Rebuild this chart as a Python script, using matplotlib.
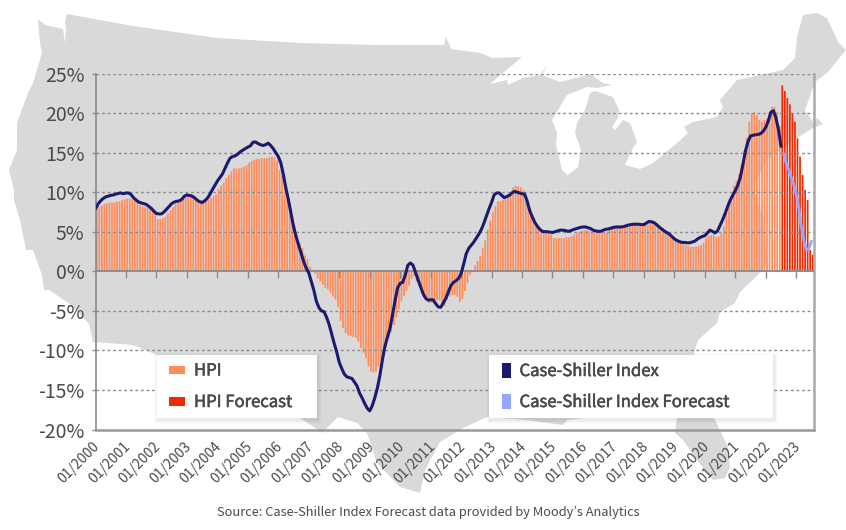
import numpy as np
import matplotlib
matplotlib.use('Agg')
import matplotlib.pyplot as plt
import matplotlib.patheffects as pe
from matplotlib.patches import Polygon, Rectangle
from matplotlib.transforms import ScaledTranslation

plt.rcParams['font.family'] = ['Noto Sans CJK JP', 'DejaVu Sans']

# monthly values, 01/2000 to 07/2023
hpi = [
    7.9, 8.1, 8.3, 8.5, 8.6, 8.7, 8.7, 8.7, 8.8, 8.8, 9.0, 9.1,
    9.2, 9.2, 9.1, 8.9, 8.7, 8.4, 8.2, 8.1, 8.0, 8.0, 7.9, 7.5,
    6.6, 6.6, 6.7, 6.9, 7.3, 7.7, 8.1, 8.5, 8.7, 8.9, 9.1, 9.4,
    9.5, 9.5, 9.4, 9.2, 9.0, 8.9, 8.8, 8.8, 9.0, 9.3, 9.5, 9.7,
    10.4, 10.8, 11.2, 11.8, 12.2, 12.6, 13.0, 13.0, 13.0, 13.1, 13.2, 13.4,
    13.7, 13.9, 14.1, 14.2, 14.2, 14.3, 14.3, 14.3, 14.4, 14.5, 14.4, 14.0,
    12.8, 12.1, 11.1, 9.9, 8.5, 7.0, 5.8, 4.4, 3.6, 2.9, 2.0, 1.5,
    0.6, 0.2, -0.3, -0.9, -1.3, -1.7, -2.1, -2.3, -2.7, -3.2, -3.6, -4.5,
    -6.3, -7.2, -7.8, -8.1, -8.2, -8.3, -8.4, -8.9, -9.7, -10.3, -11.0, -12.0,
    -12.7, -12.8, -12.7, -12.0, -11.2, -10.5, -9.5, -8.5, -7.7, -6.8, -5.8, -4.8,
    -3.8, -3.1, -2.5, -1.8, -1.0, -0.6, -1.3, -1.9, -2.7, -3.2, -3.6, -4.0,
    -4.0, -3.8, -3.6, -3.7, -4.2, -4.4, -3.6, -3.2, -3.0, -3.0, -3.2, -3.9,
    -3.5, -2.5, -1.5, -0.5, 0.1, 0.75, 1.3, 1.9, 2.9, 3.9, 5.3, 6.4,
    7.5, 8.2, 8.8, 8.9, 9.0, 9.1, 9.3, 9.6, 10.6, 10.8, 10.7, 10.6,
    10.3, 9.6, 8.6, 7.6, 6.8, 6.2, 5.7, 5.3, 5.0, 4.8, 4.7, 4.6,
    4.2, 4.2, 4.2, 4.2, 4.2, 4.3, 4.3, 4.4, 4.6, 4.8, 5.0, 5.1,
    5.2, 5.2, 5.1, 4.9, 4.9, 4.8, 4.8, 4.8, 4.9, 5.0, 5.2, 5.4,
    5.5, 5.5, 5.6, 5.6, 5.6, 5.6, 5.7, 5.7, 5.8, 5.8, 5.8, 5.8,
    5.8, 5.9, 6.1, 6.1, 5.9, 5.7, 5.5, 5.4, 5.2, 5.0, 4.7, 4.3,
    3.9, 3.7, 3.6, 3.5, 3.3, 3.2, 3.1, 3.1, 3.1, 3.2, 3.3, 3.6,
    4.2, 4.5, 4.6, 4.6, 4.3, 4.4, 4.8, 5.7, 7.4, 8.4, 9.5, 10.8,
    11.4, 12.3, 13.5, 15.2, 16.9, 18.9, 20.0, 20.1, 19.7, 19.1, 18.9, 19.1,
    19.3, 20.1, 20.8, 20.8, 20.1, 18.4,
]
hpi_forecast = [23.5, 22.8, 21.9, 21.1, 20.0, 18.9, 16.8, 14.5, 12.2, 10.3, 9.0, 2.7, 2.1]

case_shiller = [
    7.9, 8.5, 8.9, 9.2, 9.4, 9.5, 9.6, 9.65, 9.75, 9.85, 9.9, 9.8,
    9.9, 9.9, 9.7, 9.3, 9.0, 8.75, 8.65, 8.55, 8.45, 8.2, 7.95, 7.6,
    7.3, 7.25, 7.25, 7.5, 7.85, 8.2, 8.55, 8.75, 8.85, 8.9, 9.1, 9.5,
    9.65, 9.6, 9.5, 9.3, 9.0, 8.8, 8.7, 8.9, 9.2, 9.7, 10.3, 10.85,
    11.4, 11.85, 12.3, 13.0, 13.7, 14.3, 14.5, 14.6, 14.8, 15.1, 15.3, 15.5,
    15.7, 15.85, 16.3, 16.35, 16.15, 16.0, 15.9, 16.0, 16.2, 15.9, 15.5, 15.0,
    14.5, 13.7, 12.2, 10.5, 9.0, 7.3, 5.65, 4.4, 3.3, 2.3, 1.2, 0.4,
    -0.2, -1.3, -2.4, -3.8, -4.6, -5.0, -5.1, -5.8, -6.7, -7.9, -9.1, -10.2,
    -11.5, -12.3, -13.0, -13.35, -13.45, -13.55, -14.0, -14.5, -15.4, -16.0, -16.7, -17.3,
    -17.65, -17.0, -16.0, -14.8, -13.2, -11.2, -9.5, -8.3, -7.2, -5.5, -3.7, -2.1,
    -1.5, -1.4, -0.5, 0.75, 1.05, 0.8, -0.1, -1.05, -1.9, -2.8, -3.4, -3.65,
    -3.6, -3.6, -4.1, -4.5, -4.55, -4.0, -3.4, -2.6, -1.8, -1.4, -1.2, -0.9,
    -0.3, 0.9, 2.2, 2.9, 3.3, 3.7, 4.2, 4.7, 5.3, 6.1, 7.0, 7.9,
    8.7, 9.65, 9.9, 9.9, 9.6, 9.3, 9.45, 9.6, 9.9, 10.1, 10.0, 9.9,
    9.8, 9.75, 8.9, 7.7, 6.9, 6.2, 5.7, 5.3, 5.05, 5.0, 5.0, 4.95,
    4.9, 5.0, 5.1, 5.2, 5.2, 5.15, 5.05, 5.1, 5.25, 5.35, 5.45, 5.55,
    5.6, 5.6, 5.5, 5.4, 5.2, 5.1, 5.05, 5.05, 5.2, 5.3, 5.35, 5.45,
    5.55, 5.6, 5.6, 5.6, 5.65, 5.75, 5.85, 5.9, 5.95, 5.95, 5.95, 5.9,
    5.9, 6.1, 6.3, 6.25, 6.15, 5.9, 5.6, 5.35, 5.1, 4.9, 4.7, 4.4,
    4.1, 3.9, 3.75, 3.65, 3.65, 3.6, 3.6, 3.7, 3.8, 4.05, 4.25, 4.4,
    4.5, 4.85, 5.2, 5.05, 4.85, 5.1, 5.8, 6.5, 7.3, 8.2, 9.0, 9.6,
    10.2, 10.9, 11.9, 13.5, 15.2, 16.4, 17.1, 17.2, 17.25, 17.3, 17.4, 17.7,
    18.2, 19.0, 20.1, 20.3, 19.4, 17.9, 15.8,
]
case_shiller_forecast = [14.9, 13.7, 12.9, 11.9, 11.0, 9.7, 8.0, 5.6, 3.9, 2.7, 2.9, 3.8]

years = list(range(2000, 2024))
tick_labels = [f'01/{y}' for y in years]
y_ticks = [25, 20, 15, 10, 5, 0, -5, -10, -15, -20]

# background map outline, in picture pixels
us_outline = [
    (38, 19), (45, 25), (63, 29), (65, 43), (66, 29), (65, 22), (67, 14), (133, 26), (217, 38), (300, 43),
    (378, 45), (444, 45), (446, 37), (451, 49), (480, 53), (493, 58), (522, 57), (503, 73), (490, 84),
    (507, 80), (508, 85), (523, 78), (540, 75), (548, 65), (542, 75), (560, 82), (580, 77), (590, 74),
    (603, 83), (612, 85), (597, 88), (587, 87), (567, 95), (552, 120), (557, 133), (556, 145), (562, 170),
    (568, 175), (578, 167), (581, 150), (575, 133), (577, 123), (585, 110), (590, 93), (595, 91),
    (613, 97), (619, 110), (618, 118), (612, 127), (615, 130), (623, 120), (630, 123), (637, 142),
    (633, 148), (625, 165), (640, 169), (653, 163), (677, 143), (688, 133), (684, 127), (693, 122),
    (717, 117), (723, 107), (720, 100), (737, 80), (783, 70), (795, 58), (797, 37), (803, 15), (817, 13),
    (827, 18), (838, 42), (846, 50), (828, 72), (815, 82), (805, 110), (813, 122), (817, 118), (823, 124),
    (813, 128), (797, 138), (767, 160), (753, 187), (763, 217), (767, 263), (758, 275), (740, 292),
    (735, 303), (720, 312), (717, 323), (698, 340), (695, 350), (690, 385), (715, 420), (728, 447),
    (730, 467), (725, 478), (713, 480), (697, 460), (683, 440), (675, 433), (677, 418), (640, 412),
    (600, 416), (567, 420), (563, 425), (527, 420), (487, 417), (463, 428), (440, 442), (425, 470),
    (420, 493), (400, 487), (377, 463), (367, 433), (357, 423), (338, 417), (328, 427), (323, 433),
    (300, 418), (270, 392), (200, 368), (157, 355), (133, 345), (93, 342), (89, 324), (70, 304), (49, 290),
    (44, 290), (42, 275), (33, 250), (26, 250), (20, 220), (14, 200), (14, 190), (9, 170), (17, 150),
    (17, 123), (28, 93), (33, 83), (37, 70), (42, 53), (40, 43),
]

GRID = '#8c8c8c'
AXIS = '#8a8a8a'
TEXT = '#4a4a4a'

W, H = 846, 530
fig = plt.figure(figsize=(W / 100, H / 100), dpi=100, facecolor='white')

# map goes behind everything
bg = fig.add_axes([0, 0, 1, 1], zorder=0)
bg.set_xlim(0, W)
bg.set_ylim(H, 0)
bg.axis('off')
bg.add_patch(Polygon(us_outline, closed=True, fc='#d9d9d9', ec='none'))

ax = fig.add_axes([95.5 / W, 1 - 429.5 / H, (814 - 95.5) / W, (429.5 - 73.5) / H], zorder=1)
ax.patch.set_alpha(0)

months = np.arange(len(hpi) + len(hpi_forecast))
ax.bar(months[:len(hpi)], hpi, width=0.68, color='#ff8c5a', lw=0, zorder=2, snap=False)
ax.bar(months[len(hpi):], hpi_forecast, width=0.68, color='#ee2a00', lw=0, zorder=2, snap=False)

ax.set_xlim(-0.5, len(months) - 0.5)
ax.set_ylim(-20, 25)

for y in y_ticks:
    if y not in (0, -20):
        ax.axhline(y, color=GRID, lw=1, ls=(0, (2, 2)), zorder=3)
ax.axhline(0, color=AXIS, lw=1.3, zorder=3)

# line points sit on the month ticks
n_cs = len(case_shiller)
line_x = months - 0.5
ax.plot(line_x[n_cs:], case_shiller_forecast, color='#96a5ff', lw=2.0, zorder=4, solid_capstyle='round')
ax.plot(line_x[:n_cs], case_shiller, color='#1a1a6e', lw=2.2, zorder=5, solid_capstyle='round')

tick_pos = [12 * i - 0.5 for i in range(len(years))]
ax.vlines(tick_pos[1:], -0.8, 0, color=AXIS, lw=1, zorder=3)
ax.set_xticks(tick_pos)
ax.set_xticklabels(tick_labels, rotation=45, ha='right', va='top', rotation_mode='anchor',
                   fontsize=10, color=TEXT)
ax.tick_params(axis='x', length=0, pad=7)
shift = ScaledTranslation(-3 / 100, 0, fig.dpi_scale_trans)
for lab in ax.get_xticklabels():
    lab.set_transform(lab.get_transform() + shift)
ax.set_yticks(y_ticks)
ax.set_yticklabels([f'{y}%' for y in y_ticks], fontsize=14, color=TEXT)
ax.tick_params(axis='y', length=3, width=1, color=GRID, pad=5)

ax.spines['top'].set_visible(False)
ax.spines['left'].set_color(AXIS)
ax.spines['left'].set_linewidth(1.2)
ax.spines['bottom'].set_color('#999999')
ax.spines['bottom'].set_linewidth(1.8)
ax.spines['right'].set_color('#aaaaaa')
ax.spines['right'].set_linewidth(1.8)

# legends are plain boxes drawn in pixel space
fg = fig.add_axes([0, 0, 1, 1], zorder=2)
fg.set_xlim(0, W)
fg.set_ylim(H, 0)
fg.axis('off')
fg.patch.set_alpha(0)


def legend_box(x0, y0, x1, y1):
    for grow, a in zip([8, 6, 4, 2], [0.012, 0.018, 0.022, 0.028]):
        fg.add_patch(Rectangle((x0 - grow / 2 + 1, y0 - grow / 2 + 2), x1 - x0 + grow, y1 - y0 + grow,
                               fc='black', ec='none', alpha=a))
    fg.add_patch(Rectangle((x0, y0), x1 - x0, y1 - y0, fc='white', ec='none'))


def legend_item(x, y, w, h, color, label, text_x):
    fg.add_patch(Rectangle((x, y - h / 2), w, h, fc=color, ec='none'))
    # no medium weight on hand, a thin stroke thickens the regular one
    t = fg.text(text_x, y + 1, label, fontsize=12, color=TEXT, va='center', ha='left')
    t.set_path_effects([pe.withStroke(linewidth=0.4, foreground=TEXT)])


legend_box(157, 355, 317, 418)
legend_item(169, 370, 16, 8.5, '#ff8c5a', 'HPI', 194)
legend_item(169, 401.5, 16, 8.5, '#ee2a00', 'HPI Forecast', 194)

legend_box(489, 355, 773, 418)
legend_item(502, 370.5, 9, 15, '#1a1a6e', 'Case-Shiller Index', 519.5)
legend_item(502, 401.5, 9, 15, '#96a5ff', 'Case-Shiller Index Forecast', 519.5)

fg.text(428, 512.5, 'Source: Case-Shiller Index Forecast data provided by Moody\u2019s Analytics',
        fontsize=9.25, color=TEXT, ha='center', va='center')

fig.savefig('out.png', dpi=100)
